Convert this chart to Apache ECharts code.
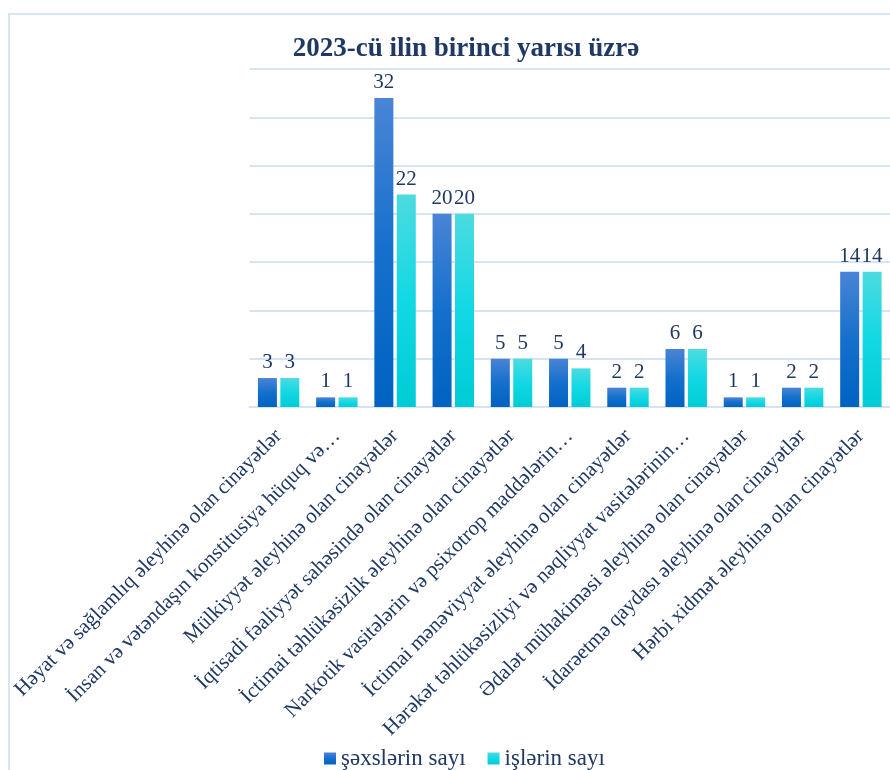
<!DOCTYPE html>
<html>
<head>
<meta charset="utf-8">
<script src="https://cdn.jsdelivr.net/npm/echarts@6/dist/echarts.min.js"></script>
<style>
html,body{margin:0;padding:0;background:#fff;}
#chart{width:890px;height:770px;}
</style>
</head>
<body>
<div id="chart"></div>
<script>
const titleText = "2023-cü ilin birinci yarısı üzrə";
const categories = [
  "Həyat və sağlamlıq əleyhinə olan cinayətlər",
  "İnsan və vətəndaşın konstitusiya hüquq və…",
  "Mülkiyyət əleyhinə olan cinayətlər",
  "İqtisadi fəaliyyət sahəsində olan cinayətlər",
  "İctimai təhlükəsizlik əleyhinə olan cinayətlər",
  "Narkotik vasitələrin və psixotrop maddələrin…",
  "İctimai mənəviyyat əleyhinə olan cinayətlər",
  "Hərəkət təhlükəsizliyi və nəqliyyat vasitələrinin…",
  "Ədalət mühakiməsi əleyhinə olan cinayətlər",
  "İdarəetmə qaydası əleyhinə olan cinayətlər",
  "Hərbi xidmət əleyhinə olan cinayətlər"
];
const seriesNames = ["şəxslərin sayı", "işlərin sayı"];
const persons = [3, 1, 32, 20, 5, 5, 2, 6, 1, 2, 14];
const cases = [3, 1, 22, 20, 5, 4, 2, 6, 1, 2, 14];

const font = "'Liberation Serif', 'Times New Roman', serif";
const textColor = "#1f3864";
const gridColor = "#d5e3f4";

const chart = echarts.init(document.getElementById('chart'));
const labelCfg = {
  show: true, position: 'top', distance: 5,
  fontFamily: font, fontSize: 21, color: textColor
};
chart.setOption({
  animation: false,
  backgroundColor: '#fff',
  graphic: [{
    type: 'rect', silent: true, z: -1,
    shape: {x: 9, y: 14, width: 900, height: 800},
    style: {fill: 'none', stroke: '#d6e4f4', lineWidth: 2}
  }],
  title: {
    text: titleText, left: 461, top: 31, textAlign: 'center',
    textStyle: {fontFamily: font, fontSize: 27, fontWeight: 'bold', color: textColor}
  },
  legend: {
    data: seriesNames, top: 742, left: 319, icon: 'rect',
    itemWidth: 12, itemHeight: 12, itemGap: 22,
    textStyle: {fontFamily: font, fontSize: 23, color: textColor}
  },
  grid: {left: 249.5, top: 69, width: 649, height: 338, containLabel: false},
  xAxis: {
    type: 'category', data: categories,
    axisLine: {show: true, lineStyle: {color: gridColor, width: 2}},
    axisTick: {show: false},
    axisLabel: {interval: 0, rotate: 45, margin: 26, fontFamily: font, fontSize: 21, color: textColor}
  },
  yAxis: {
    type: 'value', min: 0, max: 35, interval: 5,
    axisLabel: {show: false}, axisLine: {show: false}, axisTick: {show: false},
    splitLine: {lineStyle: {color: gridColor, width: 2}}
  },
  series: [
    {
      name: seriesNames[0], type: 'bar', data: persons,
      barWidth: 19, barGap: '18%',
      itemStyle: {color: new echarts.graphic.LinearGradient(0, 0, 0, 1, [
        {offset: 0, color: '#4a84d6'}, {offset: 0.5, color: '#1470cc'}, {offset: 1, color: '#0062c2'}])},
      label: labelCfg
    },
    {
      name: seriesNames[1], type: 'bar', data: cases,
      barWidth: 19,
      itemStyle: {color: new echarts.graphic.LinearGradient(0, 0, 0, 1, [
        {offset: 0, color: '#4cdbe0'}, {offset: 0.5, color: '#12d8e4'}, {offset: 1, color: '#00ccd6'}])},
      label: labelCfg
    }
  ]
});
</script>
</body>
</html>
